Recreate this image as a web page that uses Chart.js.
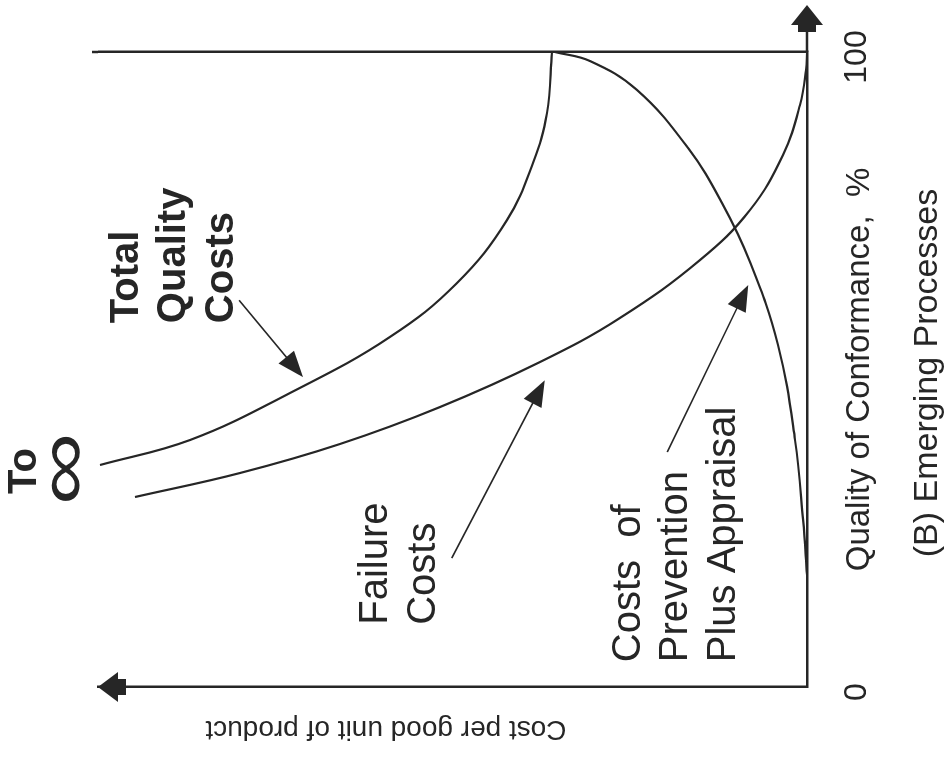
<!DOCTYPE html>
<html><head><meta charset="utf-8">
<script src="https://cdn.jsdelivr.net/npm/chart.js@4/dist/chart.umd.min.js"></script>
<style>
html,body{margin:0;padding:0;background:#fff;overflow:hidden;width:952px;height:761px;}
#wrap{position:absolute;left:0;top:0;width:761px;height:952px;transform-origin:0 0;transform:translate(0,761px) rotate(-90deg);}
canvas{display:block;}
</style></head><body>
<div id="wrap"><canvas id="c" width="761" height="952"></canvas></div>
<script>
// ---- data (quality of conformance %, cost per good unit on a 0-100 relative scale) ----
const qualityTicks = [0, 100];
const qualityTickLabels = ['0', '100'];

const totalQuality = [34.96, 38.90, 46.30, 55.12, 63.62, 73.54, 82.52, 90.39, 100];
const totalCost    = [99.72, 87.02, 72.92, 58.82, 49.37, 42.31, 38.65, 36.67, 35.97];

const failureQuality = [29.92, 33.70, 38.27, 44.09, 51.18, 58.11, 67.24, 75.12, 83.78, 91.65, 97.17, 100];
const failureCost    = [94.78, 79.97, 65.87, 51.76, 37.66, 26.38, 15.09, 8.04, 3.39, 0.99, 0.14, 0];

const preventionQuality = [17.64, 26.30, 38.90, 53.86, 66.93, 76.22, 84.88, 94.02, 98.58, 100];
const preventionCost    = [0, 0.56, 1.69, 4.09, 8.04, 11.99, 16.78, 23.98, 30.61, 35.54];

const seriesNames = ['Total Quality Costs', 'Failure Costs', 'Costs of Prevention Plus Appraisal'];
const xTitle = 'Quality of Conformance,  %';
const yTitle = 'Cost per good unit of product';
const caption = '(B) Emerging Processes';

// annotation anchors in data units
const annotations = [
  {lines: ['Total', 'Quality', 'Costs'], bold: true, at: [57.3, 94.4], from: [60.9, 80.1], to: [48.8, 71.1]},
  {lines: ['Failure', 'Costs'], bold: false, at: [9.8, 59.2], from: [20.3, 50.1], to: [48.3, 37.0]},
  {lines: ['Costs  of', 'Prevention', 'Plus Appraisal'], bold: false, at: [3.9, 23.6], from: [37.0, 19.7], to: [63.3, 8.3]}
];

const ink = '#262626';
const FONT = '"Liberation Sans", Arial, Helvetica, sans-serif';
const pts = (xs, ys) => xs.map((x, i) => ({x: x, y: ys[i]}));
const lineStyle = {showLine: true, borderColor: ink, borderWidth: 2.2, pointRadius: 0, tension: 0.4, clip: false, fill: false};

function arrowHead(ctx, tx, ty, dx, dy, len, half, neckLen, neckHalf) {
  const nx = -dy, ny = dx;
  const bx = tx - dx * len, by = ty - dy * len;
  ctx.beginPath();
  ctx.moveTo(tx, ty);
  ctx.lineTo(bx + nx * half, by + ny * half);
  ctx.lineTo(bx - nx * half, by - ny * half);
  ctx.closePath();
  ctx.fill();
  if (neckLen) {
    const ex = bx - dx * neckLen, ey = by - dy * neckLen;
    ctx.beginPath();
    ctx.moveTo(bx + nx * neckHalf, by + ny * neckHalf);
    ctx.lineTo(ex + nx * neckHalf, ey + ny * neckHalf);
    ctx.lineTo(ex - nx * neckHalf, ey - ny * neckHalf);
    ctx.lineTo(bx - nx * neckHalf, by - ny * neckHalf);
    ctx.closePath();
    ctx.fill();
  }
}

const decor = {
  id: 'decor',
  afterDraw(chart) {
    const ctx = chart.ctx, x = chart.scales.x, y = chart.scales.y, ca = chart.chartArea;
    ctx.save();
    ctx.fillStyle = ink; ctx.strokeStyle = ink;
    // quality axis extension + arrow, and the 100 % line overshoot
    ctx.lineWidth = 2.5;
    ctx.beginPath(); ctx.moveTo(ca.right, ca.bottom); ctx.lineTo(ca.right + 40, ca.bottom); ctx.stroke();
    ctx.beginPath(); ctx.moveTo(ca.right, ca.top); ctx.lineTo(ca.right, ca.top - 6); ctx.stroke();
    arrowHead(ctx, ca.right + 47, ca.bottom, 1, 0, 20, 16, 7, 9);
    // cost axis arrow
    arrowHead(ctx, ca.left, ca.top, 0, -1, 20, 15, 8, 8);
    // annotations
    annotations.forEach(a => {
      ctx.font = (a.bold ? 'bold ' : '') + '40px ' + FONT;
      ctx.textAlign = 'left'; ctx.textBaseline = 'alphabetic';
      const lx = x.getPixelForValue(a.at[0]), ly = y.getPixelForValue(a.at[1]);
      a.lines.forEach((t, i) => ctx.fillText(t, lx, ly + i * 47.5));
      const fx = x.getPixelForValue(a.from[0]), fy = y.getPixelForValue(a.from[1]);
      const tx = x.getPixelForValue(a.to[0]), ty = y.getPixelForValue(a.to[1]);
      const L = Math.hypot(tx - fx, ty - fy), dx = (tx - fx) / L, dy = (ty - fy) / L;
      ctx.lineWidth = 1.6;
      ctx.beginPath(); ctx.moveTo(fx, fy); ctx.lineTo(tx - dx * 15, ty - dy * 15); ctx.stroke();
      arrowHead(ctx, tx, ty, dx, dy, 26, 10, 0, 0);
    });
    // "To infinity"
    ctx.textAlign = 'center'; ctx.textBaseline = 'alphabetic';
    ctx.font = 'bold 40px ' + FONT;
    ctx.fillText('To', 290, 36);
    ctx.save();
    ctx.translate(292, 67); ctx.scale(1, 0.72);
    ctx.font = '102px ' + FONT; ctx.textBaseline = 'middle';
    ctx.fillText('\u221E', 0, 0);
    ctx.restore();
    // y axis title
    ctx.save();
    ctx.translate(32, 386); ctx.rotate(-Math.PI / 2);
    ctx.font = '28px ' + FONT; ctx.textAlign = 'center'; ctx.textBaseline = 'middle';
    ctx.fillText(yTitle, 0, 0);
    ctx.restore();
    // caption
    ctx.font = '34px ' + FONT; ctx.textAlign = 'center'; ctx.textBaseline = 'middle';
    ctx.fillText(caption, 388, 928);
    ctx.restore();
  }
};

new Chart(document.getElementById('c'), {
  type: 'scatter',
  data: {datasets: [
    Object.assign({label: seriesNames[0], data: pts(totalQuality, totalCost)}, lineStyle),
    Object.assign({label: seriesNames[1], data: pts(failureQuality, failureCost)}, lineStyle),
    Object.assign({label: seriesNames[2], data: pts(preventionQuality, preventionCost)}, lineStyle)
  ]},
  options: {
    responsive: false, animation: false, devicePixelRatio: 1,
    layout: {padding: {top: 98, right: 52, left: 0, bottom: 0}},
    plugins: {legend: {display: false}, tooltip: {enabled: false}, title: {display: false}},
    scales: {
      x: {
        type: 'linear', position: 'bottom', min: 0, max: 100,
        afterBuildTicks: s => { s.ticks = qualityTicks.map(v => ({value: v})); },
        afterFit: s => { s.height = 145; s.paddingLeft = 0; s.paddingRight = 0; },
        ticks: {padding: 31, labelOffset: -5, color: ink, maxRotation: 0, autoSkip: false,
          font: {family: FONT, size: 32}, callback: (v) => qualityTickLabels[qualityTicks.indexOf(v)]},
        grid: {display: true, drawTicks: false, lineWidth: 2.5,
          color: c => (c.tick && c.tick.value === 100) ? ink : 'rgba(0,0,0,0)'},
        border: {display: true, color: ink, width: 2.5},
        title: {display: true, text: xTitle, color: ink, font: {family: FONT, size: 33}, padding: {top: 0, bottom: 72}}
      },
      y: {
        type: 'linear', position: 'left', min: 0, max: 100,
        afterFit: s => { s.width = 74; s.paddingTop = 0; s.paddingBottom = 0; },
        ticks: {display: false},
        grid: {display: false},
        border: {display: true, color: ink, width: 2.5},
        title: {display: false}
      }
    }
  },
  plugins: [decor]
});
</script>
</body></html>
